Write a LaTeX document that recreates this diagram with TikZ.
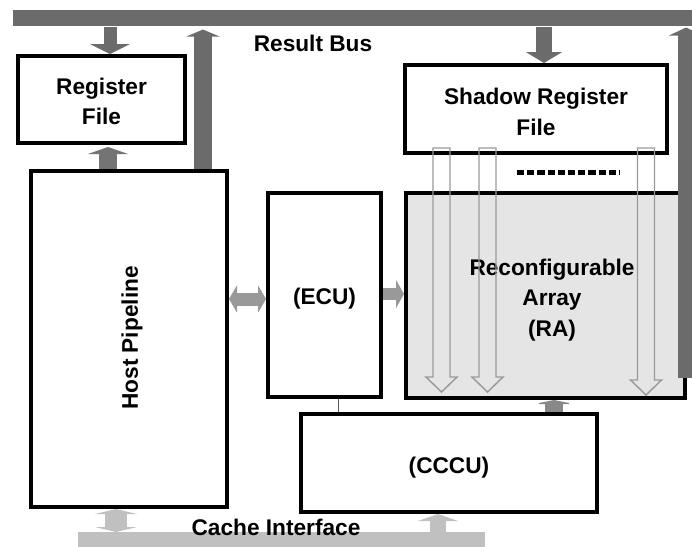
\documentclass[tikz,border=0pt]{standalone}
\usepackage{fontspec}
\setmainfont{Liberation Sans}
\usetikzlibrary{arrows.meta}
\definecolor{busgray}{HTML}{6B6B6B}
\definecolor{rhgray}{HTML}{747474}
\definecolor{ecugray}{HTML}{999999}
\definecolor{ccgray}{HTML}{888888}
\definecolor{cachegray}{HTML}{C0C0C0}
\definecolor{hollowgray}{HTML}{9A9A9A}
\definecolor{rafill}{HTML}{E5E5E5}
\begin{document}
\begin{tikzpicture}[x=0.75pt,y=-0.75pt,
  box/.style={draw=black, line width=3pt, rectangle, inner sep=0pt, align=center,
    font=\bfseries\fontsize{17}{23}\selectfont},
  lbl/.style={font=\bfseries\fontsize{17}{23}\selectfont, inner sep=0pt},
  bar/.style={inner sep=0pt, rectangle, anchor=north west},
  hollow/.style={draw=hollowgray, line width=1.1pt, line join=miter}
]
\useasboundingbox (0,0) rectangle (692,546);

% buses
\node[bar, fill=busgray, minimum width=509.25pt, minimum height=12pt] (bus) at (13,10) {};
\node[bar, fill=cachegray, minimum width=305.25pt, minimum height=11pt] (cache) at (78,532) {};

% boxes
\node[box, minimum width=125.25pt, minimum height=65.25pt] (reg) at (101.5,99.5) {\rule{0pt}{15pt}Register\\File};
\node[box, minimum width=196.5pt, minimum height=66pt] (shadow) at (536,109) {\rule{0pt}{17pt}Shadow Register\\File};
\node[box, minimum width=147pt, minimum height=252pt] (host) at (129,339) {};
\node[box, minimum width=84.75pt, minimum height=153pt] (ecu) at (324.5,295) {\rule{0pt}{18pt}(ECU)};
\node[box, fill=rafill, minimum width=209.25pt, minimum height=153.75pt] (ra) at (545.5,295.5) {};
\node[box, minimum width=222pt, minimum height=73.5pt] (cccu) at (449,463) {\rule{0pt}{20pt}(CCCU)};

% texts
\node[lbl] (resbus) at (313,43) {Result Bus};
\node[lbl, rotate=90] (hosttext) at (132,338) {Host Pipeline};
\node[lbl, align=center] (ratext) at (552,300) {Reconfigurable\\Array\\(RA)};

% hollow arrows from shadow register file into RA
\foreach \c/\b/\t in {441.5/377/392, 487.5/377/392, 646/380/395}{
  \draw[hollow] (\c-8.5,148) -- (\c-8.5,\b) -- (\c-15.5,\b) -- (\c,\t) -- (\c+15.5,\b)
    -- (\c+8.5,\b) -- (\c+8.5,148) -- cycle;
}
% dotted row
\draw[line width=3.75pt, dash pattern=on 5.4pt off 2.25pt] (517,172) -- (620,172);

% right return bar to the bus
\coordinate (rabar) at (686,378);
\draw[busgray, line width=12pt, -{Triangle[width=25.5pt,length=6pt]}, shorten >=0.75pt] (rabar) -- (686,0 |- bus.south);

% block arrows
\draw[busgray, line width=9.75pt, -{Triangle[width=30pt,length=7.5pt]}] (110,0 |- bus.south) -- (110,0 |- reg.north);
\draw[busgray, line width=13.5pt, -{Triangle[width=24.75pt,length=5.25pt]}, shorten >=2.25pt] (203,0 |- host.north) -- (203,0 |- bus.south);
\draw[busgray, line width=12pt, -{Triangle[width=27pt,length=8.25pt]}] (544,0 |- bus.south) -- (544,0 |- shadow.north);
\draw[rhgray, line width=13.5pt, -{Triangle[width=30pt,length=5.25pt]}, shorten >=1.5pt] (108,0 |- host.north) -- (108,0 |- reg.south);
\draw[ecugray, line width=9.75pt, {Triangle[width=20.25pt,length=6pt]}-{Triangle[width=20.25pt,length=6pt]}] (host.east |- 0,299) -- (ecu.west |- 0,299);
\draw[ecugray, line width=9pt, -{Triangle[width=21pt,length=6pt]}] (ecu.east |- 0,294) -- (ra.west |- 0,294);
\draw[ccgray, line width=13.5pt, -{Triangle[width=30pt,length=3pt]}] (554,0 |- cccu.north) -- (554,0 |- ra.south);
\draw[cachegray, line width=16.5pt, {Triangle[width=31.5pt,length=3.75pt]}-{Triangle[width=31.5pt,length=3.75pt]}] (116,0 |- cache.north) -- (116,0 |- host.south);
\draw[cachegray, line width=12pt, -{Triangle[width=30pt,length=5.25pt]}] (438,0 |- cache.north) -- (438,0 |- cccu.south);

% thin link ECU - CCCU
\draw[black!65, line width=0.75pt] (338,0 |- ecu.south) -- (338,0 |- cccu.north);

\node[lbl] (cachetext) at (276,527) {Cache Interface};
\end{tikzpicture}
\end{document}
